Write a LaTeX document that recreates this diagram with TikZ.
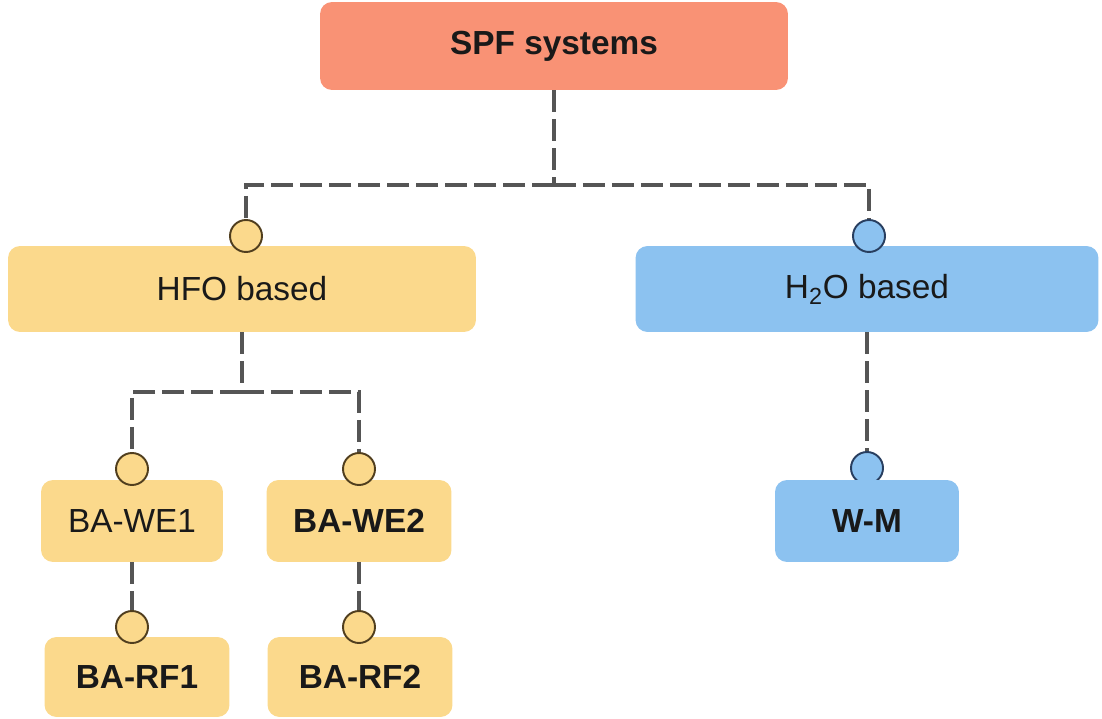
\documentclass[tikz,border=0pt]{standalone}
\usepackage{fontspec}
\setmainfont{Liberation Sans}
\usepackage{xcolor}
\definecolor{spfred}{RGB}{249,146,117}
\definecolor{hfoyel}{RGB}{251,217,140}
\definecolor{waterblue}{RGB}{140,194,240}
\definecolor{linkgray}{RGB}{85,85,85}
\definecolor{pinyel}{RGB}{80,62,30}
\definecolor{pinblue}{RGB}{40,62,95}

\begin{document}
\begin{tikzpicture}[x=0.02cm,y=0.02cm,
    box/.style={rounded corners=0.24cm,inner sep=0pt,text=black!90,
      font=\fontsize{19}{22}\selectfont},
    link/.style={linkgray,line width=2.3pt,dash pattern=on 12.5pt off 4pt},
    pinyellow/.style={circle,minimum size=0.64cm,inner sep=0pt,
      fill=hfoyel,draw=pinyel,line width=1.1pt},
    pinblue/.style={circle,minimum size=0.64cm,inner sep=0pt,
      fill=waterblue,draw=pinblue,line width=1.1pt}]
    \useasboundingbox (0,0) rectangle (1102,-719);

    % Top level
    \node[box,fill=spfred,minimum width=9.36cm,minimum height=1.76cm,
      font=\fontsize{19}{22}\selectfont\bfseries] (spf) at (554,-46) {SPF systems};

    % Second level
    \node[box,fill=hfoyel,minimum width=9.36cm,minimum height=1.72cm] (hfo) at (242,-289) {HFO based};
    \node[box,fill=waterblue,minimum width=9.26cm,minimum height=1.72cm] (h2o) at (867,-289) {H\textsubscript{2}O based};

    % Blowing agents
    \node[box,fill=hfoyel,minimum width=3.64cm,minimum height=1.64cm] (we1) at (132,-521) {BA-WE1};
    \node[box,fill=hfoyel,minimum width=3.7cm,minimum height=1.64cm,
      font=\fontsize{19}{22}\selectfont\bfseries] (we2) at (359,-521) {BA-WE2};
    \node[pinblue] (wmc) at (867,-468) {};
    \node[box,fill=waterblue,minimum width=3.68cm,minimum height=1.64cm,
      font=\fontsize{19}{22}\selectfont\bfseries] (wm) at (867,-521) {W-M};
    \node[box,fill=hfoyel,minimum width=3.7cm,minimum height=1.6cm,
      font=\fontsize{19}{22}\selectfont\bfseries] (rf1) at (137,-677) {BA-RF1};
    \node[box,fill=hfoyel,minimum width=3.7cm,minimum height=1.6cm,
      font=\fontsize{19}{22}\selectfont\bfseries] (rf2) at (360,-677) {BA-RF2};

    % Pins on top of the boxes
    \node[pinyellow] (hfoc) at (246,-236) {};
    \node[pinblue] (h2oc) at (869,-236) {};
    \node[pinyellow] (we1c) at (132,-469) {};
    \node[pinyellow] (we2c) at (359,-469) {};
    \node[pinyellow] (rf1c) at (132,-627) {};
    \node[pinyellow] (rf2c) at (359,-627) {};

    % Dashed links
    \coordinate (j1) at (554,-185);
    \coordinate (j2) at (242,-392);
    \draw[link] (spf.south) -- (j1);
    \draw[link] (j1) -| (hfoc.north);
    \draw[link] (j1) -| (h2oc.north);
    \draw[link] (hfo.south) -- (j2);
    \draw[link] (j2) -| (we1c.north);
    \draw[link] (j2) -| (we2c.north);
    \draw[link] (h2o.south) -- (wmc.north);
    \draw[link] (we1.south -| rf1c) -- (rf1c.north);
    \draw[link] (we2.south) -- (rf2c.north);
\end{tikzpicture}
\end{document}
